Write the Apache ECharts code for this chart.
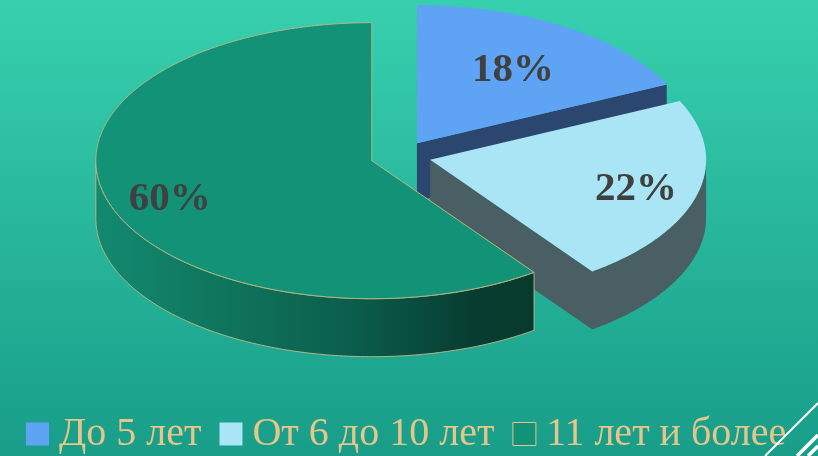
<!DOCTYPE html>
<html><head><meta charset="utf-8">
<style>html,body{margin:0;padding:0;background:#1a9a8a}#c{width:818px;height:456px}</style>
<script src="https://cdn.jsdelivr.net/npm/echarts@6/dist/echarts.min.js"></script>
</head><body><div id="c"></div>
<script>
const categories = ['До 5 лет', 'От 6 до 10 лет', '11 лет и более'];
const shares = [18, 22, 60];

// Projection of the tilted, exploded pie
const geo = {cx: 400.7, cy: 156, rx: 276, ry: 138, depth: 58, explode: 0.11};
const labelFrac = [0.65, 0.77, 0.77];
const labelShift = [3, 3, 6];
const topColors = ['#5fa4f4', '#aae5f6', '#129277'];
const sideColors = ['#2c476f', '#4a5f63',
  {type:'linear',x:0,y:0,x2:1,y2:0,colorStops:[
    {offset:0,color:'#128a70'},{offset:0.3,color:'#0f745c'},{offset:0.6,color:'#0b5c4c'},
    {offset:0.85,color:'#073e31'},{offset:1,color:'#063a2d'}]}];
const edge = '#b7b583';
const total = shares.reduce((a, b) => a + b, 0);

function pt(c, f, th, dz) {
  return [c[0] + f * geo.rx * Math.sin(th), c[1] - f * geo.ry * Math.cos(th) + (dz || 0)];
}
function arc(c, a, b, dz) {
  const n = Math.max(2, Math.ceil((b - a) / 0.01)), out = [];
  for (let i = 0; i <= n; i++) out.push(pt(c, 1, a + (b - a) * i / n, dz));
  return out;
}
function makeRender(idx) {
  return function () {
    const before = shares.slice(0, idx).reduce((a, b) => a + b, 0);
    const a = before / total * 2 * Math.PI;
    const b = (before + shares[idx]) / total * 2 * Math.PI;
    const mid = (a + b) / 2;
    const c = pt([geo.cx, geo.cy], geo.explode, mid);
    const green = idx === 2;
    const children = [];
    const wallA = Math.max(a, Math.PI / 2), wallB = Math.min(b, 1.5 * Math.PI);
    const hasWall = wallB > wallA;
    if (green) {
      // Outer wall only: the cut faces of this slice look away from the viewer
      const top = arc(c, wallA, wallB, 0), bot = arc(c, wallA, wallB, geo.depth).reverse();
      children.push({type:'polygon', shape:{points: top.concat(bot)},
        style:{fill: sideColors[idx], stroke: edge, lineWidth: 1}});
    } else {
      // Cut face at the end angle joined with the outer wall, as one seamless shape
      const e = pt(c, 1, b);
      const lower = [c, [c[0], c[1] + geo.depth]];
      const rim = hasWall ? arc(c, wallA, wallB, geo.depth).reverse().concat(arc(c, wallA, wallB, 0))
                          : [[e[0], e[1] + geo.depth], e];
      children.push({type:'polygon', shape:{points: lower.concat(rim)},
        style:{fill: sideColors[idx], stroke: null}});
    }
    // Top face
    children.push({type:'polygon', shape:{points:[c].concat(arc(c, a, b, 0))},
      style:{fill: topColors[idx], stroke: green ? edge : null, lineWidth: 1}});
    const lp = pt(c, labelFrac[idx], mid);
    children.push({type:'text', z2: 50, style:{x: lp[0], y: lp[1] + labelShift[idx], text: Math.round(shares[idx]) + '%',
      fill:'#404040', font:'bold 41px "Liberation Serif"', align:'center', verticalAlign:'middle'}});
    return {type:'group', children};
  };
}

const chart = echarts.init(document.getElementById('c'), null, {renderer:'canvas'});
chart.setOption({
  animation:false,
  backgroundColor:{type:'linear',x:0,y:0,x2:0,y2:1,colorStops:[
    {offset:0,color:'#37d0ae'},{offset:1,color:'#189d89'}]},
  legend:{
    left:21, top:409, itemWidth:23, itemHeight:23, itemGap:18, icon:'rect',
    textStyle:{color:'#e5c68a', fontSize:40, fontFamily:'"Liberation Serif"', padding:[0,0,0,5]},
    data:categories.map((n,i)=>({name:n, itemStyle:{color:topColors[i], borderColor:i===2?'#e5c68a':null, borderWidth:i===2?1:0}}))
  },
  graphic:[
    {type:'line',z:100,shape:{x1:818,y1:403,x2:765,y2:456},style:{stroke:'#fff',lineWidth:2}},
    {type:'line',z:100,shape:{x1:818,y1:435,x2:797,y2:456},style:{stroke:'#fff',lineWidth:3.5}},
    {type:'line',z:100,shape:{x1:818,y1:446,x2:808,y2:456},style:{stroke:'#fff',lineWidth:3.5}}
  ],
  series:categories.map((n,i)=>({
    type:'custom', name:n, coordinateSystem:'none', z:2+i, data:[shares[i]],
    itemStyle:{color:topColors[i]}, renderItem:makeRender(i), silent:true
  }))
});
</script></body></html>
